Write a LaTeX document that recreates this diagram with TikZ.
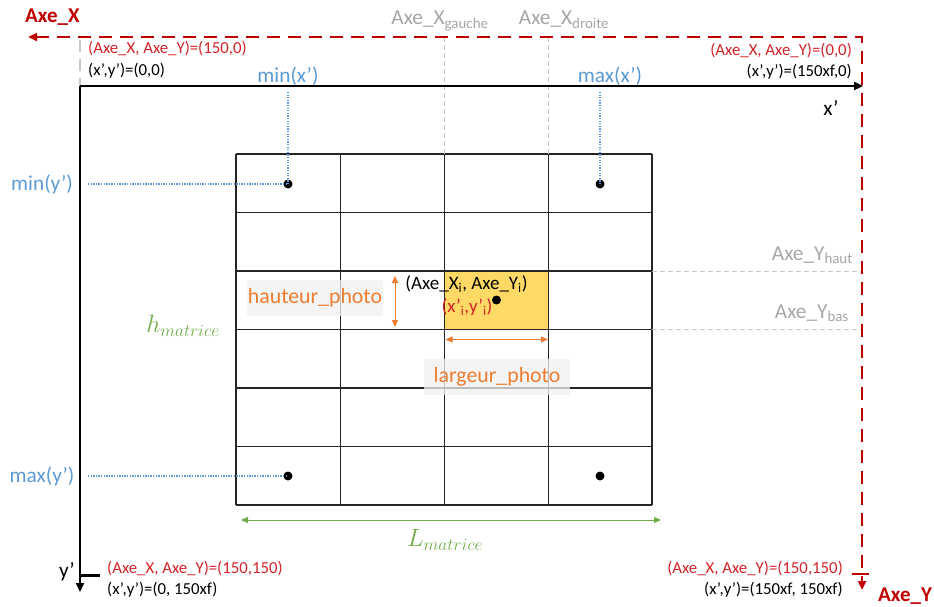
\documentclass[tikz,border=0pt]{standalone}
\usepackage{fontspec}
\setmainfont{Carlito}
\usetikzlibrary{arrows.meta}
\definecolor{axred}{RGB}{192,0,0}
\definecolor{txtred}{RGB}{210,35,40}
\definecolor{myblue}{RGB}{91,155,213}
\definecolor{myorange}{RGB}{237,125,49}
\definecolor{mygreen}{RGB}{112,173,71}
\definecolor{mygray}{RGB}{166,166,166}
\definecolor{lgray}{RGB}{200,200,200}
\definecolor{gold}{RGB}{255,217,102}
\definecolor{labelbg}{RGB}{240,240,240}
\begin{document}
\begin{tikzpicture}[x=1pt,y=-1pt,
  small/.style={font=\fontsize{16.8}{18}\selectfont, inner sep=0pt},
  big/.style={font=\fontsize{21.3}{23}\selectfont, inner sep=0pt},
  boldred/.style={font=\fontsize{21}{23}\selectfont\bfseries, text=axred, inner sep=0pt},
  gridline/.style={line width=1.3pt, black!85},
  axis/.style={line width=2.4pt, -{Triangle[length=9pt,width=8pt]}},
  reddash/.style={line width=2.8pt, axred, dash pattern=on 13pt off 8pt},
  guide/.style={line width=1pt, lgray, dash pattern=on 5pt off 3pt},
  bluedot/.style={line width=1.3pt, myblue, dash pattern=on 1.3pt off 1.3pt},
  dot/.style={circle, fill=black, inner sep=0pt, minimum size=9pt},
  dimarrow/.style={line width=1pt, {Triangle[length=7pt,width=6pt]}-{Triangle[length=7pt,width=6pt]}},
  labelbox/.style={fill=labelbg, fill opacity=0.75, text opacity=1, inner sep=0pt}]
\useasboundingbox (0,0) rectangle (934,607);

% highlighted cell
\fill[gold] (444.5,271) rectangle (548.5,329.5);
% grid
\foreach \x in {236,340.5,444.5,548.5,652} \draw[gridline] (\x,154) -- (\x,505);
\foreach \y in {154,212.5,271,329.5,388,446.5,505} \draw[gridline] (236,\y) -- (652,\y);

% coordinates
\coordinate (O) at (80,86);
\coordinate (Xend) at (863,86);
\coordinate (Yend) at (80,592);
\coordinate (R) at (862,37);
\coordinate (RL) at (28,37);
\coordinate (RB) at (862,590);

% grey guides
\draw[guide] (444.5,37) -- (444.5,154);
\draw[guide] (548.5,37) -- (548.5,154);
\draw[guide] (652,271) -- (862,271);
\draw[guide] (652,329.5) -- (862,329.5);
\draw[line width=2.6pt, lgray, dash pattern=on 12pt off 7pt] (80,40) -- (O);

% red dashed axes
\draw[reddash, {Triangle[length=9pt,width=8pt]}-{Triangle[length=9pt,width=8pt]}] (RL) -- (R) -- (RB);
\draw[line width=2.6pt, axred] (852,574) -- (869,574);

% black axes
\draw[axis] (O) -- (Xend);
\draw[axis] (O) -- (Yend);
\draw[line width=2.4pt] (81,575.5) -- (100,575.5);

% dots
\node[dot] (d1) at (288,184) {};
\node[dot] (d2) at (600,184) {};
\node[dot] (d3) at (288,476) {};
\node[dot] (d4) at (600,476) {};
\node[dot] (d5) at (496.5,300) {};

% blue labels and dotted lines
\node[big, text=myblue] (minx) at (288,76) {min(x’)};
\node[big, text=myblue] (maxx) at (610,76) {max(x’)};
\node[big, text=myblue] (miny) at (42,184) {min(y’)};
\node[big, text=myblue] (maxy) at (42,476) {max(y’)};
\draw[bluedot] (288,92) -- (d1.center);
\draw[bluedot] (600,92) -- (d2.center);
\draw[bluedot] (88,184) -- (d1.center);
\draw[bluedot] (88,476) -- (d3.center);

% orange dimension arrows
\coordinate (hT) at (395,276);
\coordinate (hB) at (395,327);
\coordinate (lL) at (445.5,339.5);
\coordinate (lR) at (548,339.5);
\draw[dimarrow, myorange] (hT) -- (hB);
\draw[dimarrow, myorange] (lL) -- (lR);
\node[labelbox, minimum width=136pt, minimum height=36pt, font=\fontsize{21.8}{23}\selectfont, text=myorange] (haut) at (315,298) {hauteur\_photo};
\node[labelbox, minimum width=146pt, minimum height=36pt, font=\fontsize{21.8}{23}\selectfont, text=myorange] (larg) at (497,377) {largeur\_photo};

% green dimension
\coordinate (gL) at (241,520);
\coordinate (gR) at (661,520);
\draw[line width=1pt, mygreen, {Triangle[length=7pt,width=6pt]}-{Triangle[length=7pt,width=6pt]}] (gL) -- (gR);
\node[text=mygreen, font=\fontsize{24}{26}\selectfont, inner sep=0pt] (Lm) at (445,540) {$L_{matrice}$};
\node[text=mygreen, font=\fontsize{24}{26}\selectfont, inner sep=0pt] (hm) at (183,326) {$h_{matrice}$};

% cell labels
\node[font=\fontsize{19}{20}\selectfont, inner sep=0pt] (axi) at (466.5,284) {(Axe\_X\textsubscript{i}, Axe\_Y\textsubscript{i})};
\node[font=\fontsize{19}{20}\selectfont, inner sep=0pt, text=txtred] (xpi) at (467,307) {(x’\textsubscript{i},y’\textsubscript{i})};

% grey axis labels
\node[big, text=mygray, anchor=base] (xg) at (440,25) {Axe\_X\textsubscript{gauche}};
\node[big, text=mygray, anchor=base] (xd) at (564,25) {Axe\_X\textsubscript{droite}};
\node[big, text=mygray, anchor=base east] (yh) at (853,260) {Axe\_Y\textsubscript{haut}};
\node[big, text=mygray, anchor=base east] (yb) at (849,318) {Axe\_Y\textsubscript{bas}};

% axis names
\node[boldred, anchor=base west] (ax) at (25,23) {Axe\_X};
\node[boldred, anchor=base west] (ay) at (878,601) {Axe\_Y};
\node[big] (xp) at (831,108) {x’};
\node[big] (yp) at (67,572) {y’};

% corner labels
\node[small, text=txtred, anchor=base west] (c1a) at (88,54) {(Axe\_X, Axe\_Y)=(150,0)};
\node[small, anchor=base west] (c1b) at (88,76) {(x’,y’)=(0,0)};
\node[small, text=txtred, anchor=base east] (c2a) at (852,56) {(Axe\_X, Axe\_Y)=(0,0)};
\node[small, anchor=base east] (c2b) at (852,77) {(x’,y’)=(150xf,0)};
\node[small, text=txtred, anchor=base west] (c3a) at (107,573) {(Axe\_X, Axe\_Y)=(150,150)};
\node[small, anchor=base west] (c3b) at (107,594) {(x’,y’)=(0, 150xf)};
\node[small, text=txtred, anchor=base east] (c4a) at (843,573) {(Axe\_X, Axe\_Y)=(150,150)};
\node[small, anchor=base east] (c4b) at (843,594) {(x’,y’)=(150xf, 150xf)};
\end{tikzpicture}
\end{document}
